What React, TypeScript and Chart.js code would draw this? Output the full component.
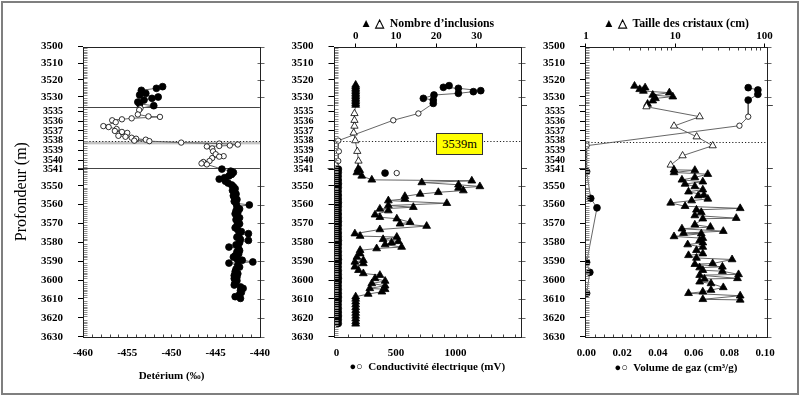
import React, { useEffect, useRef } from 'react';
import { Chart, registerables } from 'chart.js';

Chart.register(...registerables);

const SERIF = '"Liberation Serif", "Times New Roman", serif';

// ---------------- depth axis (broken scale) ----------------
const depthTicksUpper = [3500, 3510, 3520, 3530];
const depthTicksMiddle = [3535, 3536, 3537, 3538, 3539, 3540, 3541];
const depthTicksLower = [3550, 3560, 3570, 3580, 3590, 3600, 3610, 3620, 3630];

// ---------------- panel 1 : deuterium ----------------
const deutTicks = [-460, -455, -450, -445, -440];
const deutTickLabels = ['-460', '-455', '-450', '-445', '-440'];
const deutUpperDepth = [3524.0, 3525.0, 3526.2, 3528.0, 3529.0, 3530.2, 3531.0, 3532.0, 3533.2, 3534.3, 3535.4];
const deutUpperValue = [-451.0, -451.7, -453.4, -452.9, -453.6, -451.5, -452.2, -453.1, -453.8, -453.6, -452.0];
const deutMiddleDepth = [3534.66, 3534.84, 3535.3, 3535.5, 3535.55, 3535.7, 3535.8, 3535.9, 3536.1, 3536.5, 3536.6, 3536.8, 3537.0, 3537.1, 3537.2, 3537.5, 3537.6, 3537.7, 3537.8, 3537.9, 3538.0, 3538.05, 3538.2, 3538.3, 3538.4, 3538.5, 3538.55, 3538.6, 3538.8, 3539.1, 3539.4, 3539.6, 3539.65, 3539.8, 3540.1, 3540.2, 3540.35, 3540.45];
const deutMiddleValue = [-453.5, -453.65, -453.8, -452.6, -451.3, -454.5, -455.6, -456.7, -456.3, -457.7, -457.1, -456.2, -456.4, -455.6, -455.0, -456.0, -455.2, -454.5, -454.0, -452.9, -454.2, -452.5, -448.9, -444.6, -442.5, -443.4, -444.6, -446.0, -445.4, -445.3, -445.0, -444.1, -444.6, -445.4, -445.7, -446.4, -446.6, -446.0];
const deutLowerDepth = [3541.2, 3542.3, 3543.0, 3544.0, 3544.8, 3545.8, 3546.5, 3547.6, 3548.6, 3549.6,
  3550.5, 3551.6, 3552.5, 3553.4, 3554.4, 3555.3, 3556.2, 3557.3, 3558.3, 3559.3,
  3560.2, 3561.0, 3562.3, 3563.3, 3564.2, 3564.9, 3566.0, 3567.0, 3568.0, 3569.1,
  3570.2, 3571.2, 3572.3, 3573.4, 3574.3, 3575.4, 3576.4, 3577.3, 3578.4, 3579.0,
  3580.2, 3581.3, 3582.5, 3583.4, 3584.4, 3585.1, 3586.2, 3587.1, 3587.8, 3588.8,
  3589.5, 3590.4, 3591.0, 3592.1, 3593.1, 3594.2, 3595.6, 3596.6, 3597.6, 3598.4,
  3599.2, 3600.3, 3601.3, 3602.6, 3603.6, 3604.4, 3605.5, 3606.6, 3607.6, 3608.8, 3609.7];
const deutLowerValue = [-444.3, -443.3, -443.0, -443.2, -443.5, -444.0, -444.6, -443.9, -443.6, -443.2,
  -443.0, -442.8, -443.1, -442.9, -442.7, -443.0, -442.9, -442.6, -442.9, -442.7,
  -441.2, -442.6, -442.3, -442.7, -442.5, -442.8, -442.6, -442.3, -442.7, -442.5,
  -442.3, -442.6, -442.8, -442.5, -442.1, -441.3, -442.4, -442.6, -442.2, -441.3,
  -442.3, -442.7, -443.5, -442.4, -442.3, -442.6, -442.4, -442.8, -443.0, -442.6,
  -442.0, -440.8, -443.5, -442.5, -442.3, -442.7, -442.8, -442.5, -442.9, -442.6,
  -442.9, -442.6, -442.8, -442.9, -442.2, -441.9, -442.2, -442.1, -442.3, -442.8, -442.2];

// ---------------- panel 2 : conductivity & inclusions ----------------
const condTicks = [0, 500, 1000];
const condTickLabels = ['0', '500', '1000'];
const inclTicks = [0, 10, 20, 30];
const inclTickLabels = ['0', '10', '20', '30'];
const condUpperDepth = [3523.4, 3524.4, 3525.0, 3526.4, 3527.0, 3528.0, 3529.0, 3531.0, 3532.0, 3534.0];
const condUpperValue = [946, 898, 1024, 1212, 1150, 1024, 819, 730, 813, 813];
const condMiddleDepth = [3535.2, 3535.9, 3538.0, 3539.1, 3540.1];
const condMiddleValue = [688, 477, 15, 20, 15];
const condLowerDepth = [3541.2, 3543, 3545, 3547, 3549, 3551, 3553, 3555, 3557, 3559, 3561, 3563, 3565, 3567,
  3569, 3571, 3573, 3575, 3577, 3579, 3581, 3583, 3585, 3587, 3589, 3591, 3593, 3595, 3597, 3599,
  3601, 3603, 3605, 3607, 3609, 3611, 3613, 3615, 3617, 3619, 3621, 3623];
const condLowerValue = [16, 15, 14, 15, 16, 15, 14, 15, 15, 16, 15, 14, 15, 15,
  16, 15, 14, 15, 15, 16, 15, 14, 15, 15, 16, 15, 14, 15, 15, 16,
  15, 14, 15, 15, 16, 15, 14, 15, 15, 16, 15, 15];
const condExtraFilledDepth = [3543.3];
const condExtraFilledValue = [408];
const condExtraOpenDepth = [3543.3];
const condExtraOpenValue = [506];
const inclUpperDepth = [3523, 3524, 3525, 3526, 3527, 3528, 3529, 3530, 3531, 3532, 3533, 3534, 3535];
const inclUpperValue = [0, 0, 0, 0, 0, 0, 0, 0, 0, 0, 0, 0, 0];
const inclMiddleDepth = [3535.2, 3535.9, 3536.5, 3537.2, 3538.0, 3539.1, 3540.1];
const inclMiddleValue = [-0.3, -0.3, -0.3, -0.5, -0.1, 0.4, 0.7];
const inclLowerDepth = [3541.2, 3541.8, 3543.0, 3544.8, 3546.9, 3547.4, 3548.3, 3549.5, 3550.4, 3551.2,
  3552.6, 3553.5, 3554.4, 3555.6, 3557.0, 3557.9, 3559.3, 3560.5, 3561.4, 3562.3,
  3563.2, 3565.4, 3566.7, 3567.5, 3569.3, 3570.2, 3571.4, 3573.2, 3575.4, 3576.7,
  3577.2, 3578.4, 3579.5, 3580.2, 3581.2, 3582.5, 3583.3, 3584.2, 3586.0, 3587.8,
  3589.5, 3590.4, 3591.2, 3593.0, 3594.8, 3596.5, 3597.4, 3599.1, 3600.5, 3601.8,
  3603.0, 3604.4, 3604.9, 3606.2, 3607.4,
  3608.8, 3610, 3611.5, 3613, 3614.5, 3616, 3617.5, 3619, 3620.5, 3622, 3623.2];
const inclLowerValue = [0.6, 1.0, 0.3, 1.5, 4.0, 28.8, 16.4, 25.5, 30.8, 25.5,
  26.7, 20.5, 16.0, 12.2, 12.2, 8.1, 22.6, 8.1, 14.3, 6.0,
  8.1, 4.8, 6.0, 10.2, 13.5, 11.0, 17.6, 6.0, -0.2, 1.1,
  10.2, 6.8, 10.6, 8.9, 7.3, 11.4, 5.2, 1.1, 1.1, 0.3,
  1.9, -0.2, 1.9, -0.2, 0.7, 1.9, 6.0, 4.8, 7.3, 4.0,
  7.3, 3.5, 7.3, 6.5, 3.1,
  0, 0, 0, 0, 0, 0, 0, 0, 0, 0, 0];

// ---------------- panel 3 : gas volume & crystal size ----------------
const gasTicks = [0, 0.02, 0.04, 0.06, 0.08, 0.1];
const gasTickLabels = ['0.00', '0.02', '0.04', '0.06', '0.08', '0.10'];
const crystTicks = [1, 10, 100];
const crystTickLabels = ['1', '10', '100'];
const gasUpperDepth = [3524.6, 3526.0, 3528.6, 3532.0];
const gasUpperValue = [0.0905, 0.0959, 0.0959, 0.0905];
const gasMiddleDepth = [3535.53, 3536.46, 3538.52];
const gasMiddleValue = [0.0905, 0.0856, 0.0002];
const gasLowerDepth = [3542.5, 3556.7, 3561.7, 3590.6, 3595.9, 3607.0];
const gasLowerValue = [0.0002, 0.0025, 0.006, 0.0002, 0.002, 0.0002];
const crystUpperDepth = [3523.6, 3524.6, 3525.6, 3526.6, 3527.6, 3529.0, 3530.0, 3531.0, 3532.4, 3534.4];
const crystUpperValue = [3.5, 4.6, 4.0, 4.4, 8.6, 5.6, 9.4, 6.0, 5.6, 4.9];
const crystMiddleDepth = [3534.5, 3535.53, 3536.49, 3537.6, 3538.52, 3539.55, 3540.51];
const crystMiddleValue = [4.76, 18.8, 9.7, 17.4, 26.3, 12.1, 8.9];
const crystLowerDepth = [3541.6, 3541.8, 3543.0, 3543.9, 3545.6, 3546.9, 3547.9, 3549.1, 3550.4, 3552.1,
  3553.2, 3554.9, 3555.3, 3557.0, 3557.9, 3559.1, 3560.9, 3562.0, 3562.8, 3564.1,
  3565.8, 3567.2, 3567.5, 3570.7, 3571.9, 3572.8, 3574.1, 3575.1, 3575.4, 3576.9,
  3577.8, 3579.0, 3580.2, 3581.2, 3582.5, 3584.2, 3586.0, 3586.9, 3588.3, 3589.1,
  3591.2, 3591.6, 3593.0, 3593.4, 3594.8, 3595.3, 3597.0, 3597.4, 3599.1, 3599.4,
  3600.9, 3601.8, 3603.9, 3605.3, 3606.2, 3607.0, 3608.3, 3610.2, 3610.5];
const crystLowerValue = [9.7, 16.6, 9.7, 23.2, 16.6, 11.9, 20.4, 12.9, 16.6, 20.4,
  14.1, 21.0, 18.1, 23.2, 15.3, 8.9, 12.9, 53.5, 17.3, 19.6,
  16.6, 48.3, 20.4, 16.6, 24.8, 11.9, 34.6, 12.4, 19.6, 9.7,
  20.4, 18.8, 20.4, 13.8, 20.4, 17.3, 20.4, 14.1, 17.3, 43.4,
  26.3, 16.6, 33.8, 18.8, 20.4, 33.8, 51.3, 18.8, 49.9, 21.3,
  18.8, 25.2, 34.6, 25.2, 20.4, 14.1, 53.5, 20.4, 53.5];

// ---------------- scale helpers ----------------
type Seg = 'U' | 'M' | 'L';
const V_MAX = 290.2;
function toV(depth: number, seg: Seg): number {
  if (seg === 'U') return (depth - 3500) * 1.673;
  if (seg === 'M') return 60.2 + (depth - 3534.5) * 9.7;
  return V_MAX - (3630 - depth) * 1.8875;
}

const yTickList = [
  ...depthTicksUpper.map((d) => ({ v: toV(d, 'U'), label: String(d), small: false })),
  ...depthTicksMiddle.map((d) => ({ v: toV(d, 'M'), label: String(d), small: true })),
  ...depthTicksLower.map((d) => ({ v: toV(d, 'L'), label: String(d), small: false })),
];

const minorDepth: [number, Seg][] = [];
for (let d = 3501; d <= 3535; d++) if (d % 10 !== 0) minorDepth.push([d, 'U']);
for (let d = 3534.75; d < 3540.8; d += 0.25) minorDepth.push([d, 'M']);
for (let d = 3541; d < 3630; d++) if (d % 10 !== 0) minorDepth.push([d, 'L']);

interface Part { depth: number[]; value: number[]; seg: Seg; filled: boolean; shape: 'circle' | 'triangle'; }

function makeDataset(parts: Part[], xAxisID: string, showLine = true) {
  const data: any[] = [];
  const style: string[] = [];
  const bg: string[] = [];
  const radius: number[] = [];
  for (const p of parts) {
    p.depth.forEach((d, i) => {
      data.push({ x: p.value[i], y: toV(d, p.seg) });
      style.push(p.shape);
      bg.push(p.filled ? '#000' : '#fff');
      radius.push(p.shape === 'circle' ? (p.filled ? 3.4 : 2.7) : (p.filled ? 4.5 : 4.2));
    });
  }
  return {
    data, xAxisID, yAxisID: 'y', showLine,
    borderColor: '#555', borderWidth: 0.9,
    pointStyle: style, pointBackgroundColor: bg, pointBorderColor: '#000', pointBorderWidth: 0.8,
    pointRadius: radius, pointHoverRadius: radius,
  };
}

function yAxis(width: number, title?: string) {
  return {
    type: 'linear', position: 'left', reverse: true, min: 0, max: V_MAX,
    afterBuildTicks: (s: any) => { s.ticks = yTickList.map((t) => ({ value: t.v })); },
    afterFit: (s: any) => { s.width = width; },
    ticks: {
      autoSkip: false, padding: 15, color: '#000',
      font: (c: any) => ({ family: SERIF, weight: 'bold', size: yTickList[c.index] && yTickList[c.index].small ? 10 : 11 }),
      callback: (_v: any, i: number) => yTickList[i].label,
    },
    grid: { drawOnChartArea: false, drawTicks: true, tickLength: 5, color: '#000', lineWidth: 1 },
    border: { display: false },
    title: title
      ? { display: true, text: title, color: '#000', font: { family: SERIF, size: 16 }, padding: { top: 12.4, bottom: 0 } }
      : { display: false },
  };
}

function xAxis(position: 'top' | 'bottom', type: string, min: number, max: number, ticks: number[], labels: string[], title: string, titlePad: number, height: number) {
  const top = position === 'top';
  return {
    type, position, min, max,
    afterBuildTicks: (s: any) => { s.ticks = ticks.map((v) => ({ value: v })); },
    afterFit: (s: any) => { s.height = height; },
    ticks: {
      autoSkip: false, maxRotation: 0, minRotation: 0, padding: top ? 1 : 10, color: '#000',
      font: { family: SERIF, weight: 'bold', size: 11 },
      callback: (_v: any, i: number) => labels[i],
    },
    grid: { drawOnChartArea: false, drawTicks: top, tickLength: 3, color: '#000' },
    border: { display: false },
    title: {
      display: true, text: title, color: '#000',
      font: { family: SERIF, weight: 'bold', size: top ? 11.8 : 11 },
      padding: top ? { top: titlePad, bottom: 0 } : { top: 0, bottom: titlePad },
    },
  };
}

interface Decor {
  id: string;
  breakFull: boolean;
  breakV: number[];
  dotted: number | null;
  band: [number, number] | null;
  bottomMinor: number[];
  topMinor: number[];
}

function decorPlugin(o: Decor) {
  return {
    id: o.id,
    beforeDatasetsDraw(chart: any) {
      const { ctx, chartArea: a } = chart;
      const y = chart.scales.y;
      ctx.save();
      ctx.lineWidth = 1;
      if (o.band) {
        const y1 = y.getPixelForValue(o.band[0]);
        const y2 = y.getPixelForValue(o.band[1]);
        ctx.fillStyle = '#c2c2c2';
        ctx.fillRect(a.left, y1, a.right - a.left, y2 - y1);
      }
      if (o.dotted != null) {
        const py = Math.round(y.getPixelForValue(o.dotted)) + 0.5;
        ctx.setLineDash([1.2, 2]);
        ctx.strokeStyle = '#222';
        ctx.beginPath();
        ctx.moveTo(a.left, py);
        ctx.lineTo(a.right, py);
        ctx.stroke();
        ctx.setLineDash([]);
      }
      ctx.strokeStyle = '#444';
      ctx.beginPath();
      for (const v of o.breakV) {
        const py = Math.round(y.getPixelForValue(v)) + 0.5;
        if (o.breakFull) {
          ctx.moveTo(a.left - 5, py);
          ctx.lineTo(a.right, py);
        } else {
          ctx.moveTo(a.left - 6, py);
          ctx.lineTo(a.left, py);
          ctx.moveTo(a.right, py);
          ctx.lineTo(a.right + 6, py);
        }
      }
      ctx.stroke();
      ctx.restore();
    },
    afterDraw(chart: any) {
      const { ctx, chartArea: a } = chart;
      const y = chart.scales.y;
      const x = chart.scales.x;
      const x2 = chart.scales.x2;
      ctx.save();
      ctx.lineWidth = 1;
      const L = Math.round(a.left) + 0.5;
      const R = Math.round(a.right) + 0.5;
      const T = Math.round(a.top) + 0.5;
      const B = Math.round(a.bottom) + 0.5;
      ctx.strokeStyle = '#8c8c8c';
      ctx.beginPath();
      minorDepth.forEach(([d, s]) => {
        const py = Math.round(y.getPixelForValue(toV(d, s))) + 0.5;
        ctx.moveTo(L, py);
        ctx.lineTo(L + 4, py);
      });
      ctx.stroke();
      ctx.strokeStyle = '#666';
      ctx.beginPath();
      yTickList.filter((t) => !t.small).forEach((t) => {
        const py = Math.round(y.getPixelForValue(t.v)) + 0.5;
        ctx.moveTo(R - 3, py);
        ctx.lineTo(R + 4, py);
      });
      ctx.stroke();
      ctx.strokeStyle = '#444';
      ctx.beginPath();
      o.bottomMinor.forEach((v) => {
        const px = Math.round(x.getPixelForValue(v)) + 0.5;
        ctx.moveTo(px, B);
        ctx.lineTo(px, B - 3);
      });
      if (x2) {
        o.topMinor.forEach((v) => {
          const px = Math.round(x2.getPixelForValue(v)) + 0.5;
          ctx.moveTo(px, T);
          ctx.lineTo(px, T + 3);
        });
      }
      ctx.stroke();
      ctx.strokeStyle = '#222';
      ctx.strokeRect(L, T, R - L, B - T);
      ctx.restore();
    },
  };
}

const baseOptions = (padRight: number, padTop: number) => ({
  responsive: false,
  maintainAspectRatio: false,
  animation: false,
  events: [],
  layout: { padding: { left: 0, right: padRight, top: padTop, bottom: 0 }, autoPadding: false },
  plugins: { legend: { display: false }, tooltip: { enabled: false } },
});

const BREAKS = [60.2, 121.0];
const BREAKS_SIDE = [58.0, 121.0];
const X_HEIGHT = 396 - 336.7;

function range(a: number, b: number, step: number): number[] {
  const out: number[] = [];
  for (let v = a; v <= b + step / 1000; v += step) out.push(Math.round(v * 10000) / 10000);
  return out;
}

export default function App() {
  const c1 = useRef<HTMLCanvasElement>(null);
  const c2 = useRef<HTMLCanvasElement>(null);
  const c3 = useRef<HTMLCanvasElement>(null);

  useEffect(() => {
    const charts: Chart[] = [];

    charts.push(new Chart(c1.current as HTMLCanvasElement, {
      type: 'scatter',
      data: {
        datasets: [makeDataset([
          { depth: deutUpperDepth, value: deutUpperValue, seg: 'U', filled: true, shape: 'circle' },
          { depth: deutMiddleDepth, value: deutMiddleValue, seg: 'M', filled: false, shape: 'circle' },
          { depth: deutLowerDepth, value: deutLowerValue, seg: 'L', filled: true, shape: 'circle' },
        ], 'x') as any],
      },
      options: {
        ...baseOptions(9.5, 46.5),
        scales: {
          x: xAxis('bottom', 'linear', -460, -440, deutTicks, deutTickLabels, 'Detérium (‰)', 13.7, X_HEIGHT),
          y: yAxis(83, 'Profondeur (m)'),
        },
      } as any,
      plugins: [decorPlugin({
        id: 'decor1', breakFull: true, breakV: BREAKS, dotted: toV(3538, 'M'),
        band: [toV(3538.1, 'M'), toV(3538.38, 'M')],
        bottomMinor: range(-459, -441, 1), topMinor: [],
      })],
    }));

    charts.push(new Chart(c2.current as HTMLCanvasElement, {
      type: 'scatter',
      data: {
        datasets: [
          makeDataset([
            { depth: inclUpperDepth, value: inclUpperValue, seg: 'U', filled: true, shape: 'triangle' },
            { depth: inclMiddleDepth, value: inclMiddleValue, seg: 'M', filled: false, shape: 'triangle' },
            { depth: inclLowerDepth, value: inclLowerValue, seg: 'L', filled: true, shape: 'triangle' },
          ], 'x2') as any,
          makeDataset([
            { depth: condUpperDepth, value: condUpperValue, seg: 'U', filled: true, shape: 'circle' },
            { depth: condMiddleDepth, value: condMiddleValue, seg: 'M', filled: false, shape: 'circle' },
            { depth: condLowerDepth, value: condLowerValue, seg: 'L', filled: true, shape: 'circle' },
          ], 'x') as any,
          makeDataset([
            { depth: condExtraFilledDepth, value: condExtraFilledValue, seg: 'L', filled: true, shape: 'circle' },
            { depth: condExtraOpenDepth, value: condExtraOpenValue, seg: 'L', filled: false, shape: 'circle' },
          ], 'x', false) as any,
        ],
      },
      options: {
        ...baseOptions(9, 0),
        scales: {
          x: xAxis('bottom', 'linear', -25, 1550, condTicks, condTickLabels, '●○  Conductivité électrique (mV)', 22.7, X_HEIGHT),
          x2: xAxis('top', 'linear', -5.5, 41, inclTicks, inclTickLabels, '▲ △  Nombre d’inclusions', 16.5, 46.5),
          y: yAxis(83.5),
        },
      } as any,
      plugins: [decorPlugin({
        id: 'decor2', breakFull: false, breakV: BREAKS_SIDE, dotted: toV(3538, 'M'), band: null,
        bottomMinor: range(100, 1500, 100), topMinor: [],
      })],
    }));

    charts.push(new Chart(c3.current as HTMLCanvasElement, {
      type: 'scatter',
      data: {
        datasets: [
          makeDataset([
            { depth: crystUpperDepth, value: crystUpperValue, seg: 'U', filled: true, shape: 'triangle' },
            { depth: crystMiddleDepth, value: crystMiddleValue, seg: 'M', filled: false, shape: 'triangle' },
            { depth: crystLowerDepth, value: crystLowerValue, seg: 'L', filled: true, shape: 'triangle' },
          ], 'x2') as any,
          makeDataset([
            { depth: gasUpperDepth, value: gasUpperValue, seg: 'U', filled: true, shape: 'circle' },
            { depth: gasMiddleDepth, value: gasMiddleValue, seg: 'M', filled: false, shape: 'circle' },
            { depth: gasLowerDepth, value: gasLowerValue, seg: 'L', filled: true, shape: 'circle' },
          ], 'x') as any,
        ],
      },
      options: {
        ...baseOptions(12.5, 0),
        scales: {
          x: xAxis('bottom', 'linear', -0.0007, 0.1009, gasTicks, gasTickLabels, '●○  Volume de gaz (cm³/g)', 21.1, X_HEIGHT),
          x2: xAxis('top', 'logarithmic', 0.975, 106.4, crystTicks, crystTickLabels, '▲ △  Taille des cristaux (cm)', 17.2, 46.5),
          y: yAxis(85),
        },
      } as any,
      plugins: [decorPlugin({
        id: 'decor3', breakFull: false, breakV: BREAKS_SIDE, dotted: toV(3538.1, 'M'), band: null,
        bottomMinor: range(0.005, 0.095, 0.005),
        topMinor: [2, 3, 4, 5, 6, 7, 8, 9, 20, 30, 40, 50, 60, 70, 80, 90],
      })],
    }));

    return () => { charts.forEach((c) => c.destroy()); };
  }, []);

  const canvasStyle = (left: number, width: number): React.CSSProperties => ({
    position: 'absolute', left, top: 0, width, height: 396,
  });

  return (
    <div style={{ position: 'absolute', left: 0, top: 0, width: 800, height: 396, background: '#fff', overflow: 'hidden' }}>
      <canvas ref={c1} width={280} height={396} style={canvasStyle(0, 280)} />
      <canvas ref={c2} width={280} height={396} style={canvasStyle(250, 280)} />
      <canvas ref={c3} width={285} height={396} style={canvasStyle(500, 285)} />
      <div style={{
        position: 'absolute', left: 436, top: 133, width: 47, height: 22, boxSizing: 'border-box',
        background: '#ffff00', border: '1px solid #333', fontFamily: SERIF, fontSize: 12.5,
        display: 'flex', alignItems: 'center', justifyContent: 'center', color: '#000',
      }}>3539m</div>
      <div style={{
        position: 'absolute', left: 1, top: 1, width: 798, height: 394, boxSizing: 'border-box',
        border: '2px solid #7f7f7f', pointerEvents: 'none',
      }} />
    </div>
  );
}
